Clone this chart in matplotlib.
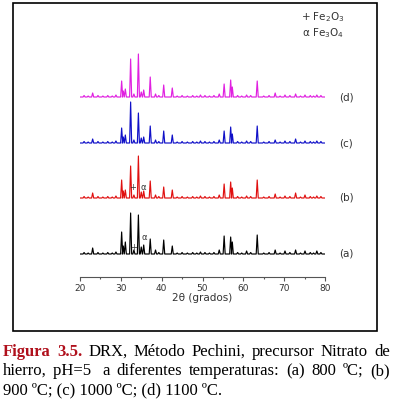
import matplotlib
matplotlib.use('Agg')
import matplotlib.pyplot as plt
from matplotlib.patches import Rectangle

# peak positions (2theta)
peaks = [23.1, 30.2, 30.6, 31.1, 32.4, 33.2, 34.3, 35.0, 35.6, 37.2, 38.5, 40.5,
         42.6, 49.5, 54.1, 55.3, 56.9, 57.3, 60.8, 63.4, 67.8, 70.2, 72.8, 75.1, 78.0]

# peak heights per temperature (arbitrary units)
h_800 = [6, 22, 8, 12, 41, 4, 39, 7, 9, 15, 4, 14, 8, 2, 4, 18, 17, 12, 3, 19, 4, 3, 4, 3, 3]
h_900 = [5, 18, 7, 8, 32, 3, 42, 6, 7, 17, 3, 11, 8, 2, 3, 14, 16, 10, 2, 18, 4, 2, 5, 3, 2]
h_1000 = [4, 15, 6, 8, 41, 3, 30, 5, 6, 17, 3, 12, 8, 2, 3, 12, 16, 9, 2, 17, 3, 2, 4, 2, 2]
h_1100 = [4, 16, 6, 8, 38, 3, 43, 5, 7, 20, 3, 12, 9, 2, 3, 13, 17, 10, 2, 16, 4, 2, 3, 2, 2]

# small background wiggles seen along the baselines
ripple_pos = [21.0, 22.0, 24.4, 25.6, 26.8, 27.9, 28.8, 39.3, 43.8, 45.0, 46.3, 47.6,
              48.6, 50.6, 51.7, 52.8, 58.6, 59.6, 61.8, 65.0, 66.3, 69.0, 71.4, 74.0,
              76.4, 77.2, 79.0]
ripple_h = [1.5, 1.0, 1.5, 1.0, 1.5, 1.0, 2.0, 1.5, 1.0, 1.5, 1.0, 1.5,
            1.0, 1.5, 1.0, 1.5, 1.5, 1.0, 1.5, 1.0, 1.5, 1.0, 1.5, 1.0,
            1.5, 1.0, 1.5]

series = [h_800, h_900, h_1000, h_1100]
labels = ['(a)', '(b)', '(c)', '(d)']
offsets = [0, 56, 111, 157]
colors = ['black', '#e01010', '#1010c8', '#e020e0']


def stick_profile(pos, heights, base, w=0.25):
    pts = sorted(zip(pos + ripple_pos, heights + ripple_h))
    xs, ys = [20], [base]
    for p, h in pts:
        xs += [p - w, p, p + w]
        ys += [base, base + h, base]
    xs.append(80)
    ys.append(base)
    return xs, ys


def justified(fig, y, parts, x0, x1, size):
    W = fig.get_figwidth() * fig.dpi
    texts = []
    for word, color, weight in parts:
        t = fig.text(0, y / (fig.get_figheight() * fig.dpi), word, color=color,
                     fontweight=weight, fontsize=size, family='Liberation Serif',
                     va='baseline', ha='left')
        texts.append(t)
    r = fig.canvas.get_renderer()
    widths = [t.get_window_extent(r).width for t in texts]
    gap = (x1 - x0 - sum(widths)) / (len(texts) - 1)
    x = x0
    for t, w in zip(texts, widths):
        t.set_x(x / W)
        x += w + gap


def main():
    fig = plt.figure(figsize=(3.93, 4.01), dpi=100)
    H = 401.0
    ax = fig.add_axes([80 / 393, (H - 277) / H, 245 / 393, 237 / H])

    for h, off, c, lab in zip(series, offsets, colors, labels):
        xs, ys = stick_profile(peaks, h, off)
        ax.plot(xs, ys, color=c, lw=0.85)
        ax.text(83.4, off, lab, fontsize=7.5, color='#333333', va='center', clip_on=False)

    # phase markers
    ax.text(33.1, 7, '+', fontsize=6, color='#333333', ha='center', va='center')
    ax.text(35.7, 16, 'α', fontsize=6, color='#333333', ha='center', va='center')
    ax.text(32.9, 66, '+', fontsize=6, color='#333333', ha='center', va='center')
    ax.text(35.5, 67, 'α', fontsize=6, color='#333333', ha='center', va='center')

    ax.set_xlim(20, 80)
    ax.set_ylim(-23, 214)
    for s in ['left', 'top', 'right']:
        ax.spines[s].set_visible(False)
    ax.spines['bottom'].set_color('#555555')
    ax.spines['bottom'].set_linewidth(0.8)
    ax.set_yticks([])
    ax.set_xticks(range(20, 81, 10))
    ax.set_xticks(range(25, 80, 10), minor=True)
    ax.tick_params(axis='x', which='major', length=3, width=0.8, color='#555555',
                   labelsize=6.5, labelcolor='#333333', pad=2)
    ax.tick_params(axis='x', which='minor', length=1.5, width=0.8, color='#555555')
    ax.set_xlabel('2θ (grados)', fontsize=7.5, color='#333333', labelpad=0)

    # legend of phases
    fig.text(323 / 393, 1 - 17 / H, r'+ Fe$_2$O$_3$', fontsize=7.5, color='#333333',
             ha='center', va='center')
    fig.text(323 / 393, 1 - 33 / H, r'α Fe$_3$O$_4$', fontsize=7.5, color='#333333',
             ha='center', va='center')

    # frame around the figure
    fig.patches.append(Rectangle((13 / 393, 1 - 331 / H), 364 / 393, 328 / H,
                                 transform=fig.transFigure, fill=False,
                                 edgecolor='black', lw=1.2))

    # caption
    red = '#b0101c'
    line1 = [('Figura', red, 'bold'), ('3.5.', red, 'bold'), ('DRX,', 'black', 'normal'),
             ('Método', 'black', 'normal'), ('Pechini,', 'black', 'normal'),
             ('precursor', 'black', 'normal'), ('Nitrato', 'black', 'normal'),
             ('de', 'black', 'normal')]
    line2 = [('hierro,', 'black', 'normal'), ('pH=5 ', 'black', 'normal'),
             ('a', 'black', 'normal'), ('diferentes', 'black', 'normal'),
             ('temperaturas:', 'black', 'normal'), ('(a)', 'black', 'normal'),
             ('800', 'black', 'normal'), ('ºC;', 'black', 'normal'), ('(b)', 'black', 'normal')]
    justified(fig, H - 356, line1, 3, 390, 12)
    justified(fig, H - 375, line2, 3, 390, 12)
    fig.text(3 / 393, (H - 394) / H, '900 ºC; (c) 1000 ºC; (d) 1100 ºC.', fontsize=12,
             family='Liberation Serif', va='baseline', ha='left')

    fig.savefig('out.png', dpi=100)


if __name__ == '__main__':
    main()
